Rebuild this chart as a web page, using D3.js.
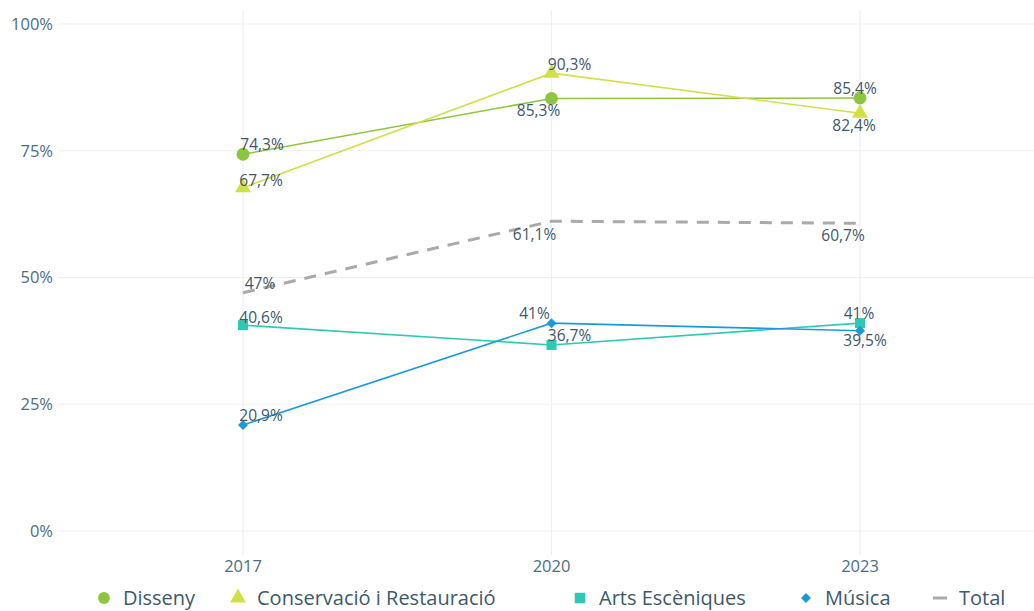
<!doctype html>
<html lang="ca">
<head>
<meta charset="utf-8">
<title>Inserció laboral</title>
<style>
  body { margin: 0; background: #fff; }
  svg { display: block; font-family: "Open Sans", "Noto Sans", sans-serif; }
</style>
</head>
<body>
<script src="https://cdn.jsdelivr.net/npm/d3@7"></script>
<script>
// data
var years = ["2017", "2020", "2023"];
var yTicks = [0, 0.25, 0.5, 0.75, 1];
var disseny = [0.743, 0.853, 0.854];
var conservacio = [0.677, 0.903, 0.824];
var artsEsceniques = [0.406, 0.367, 0.41];
var musica = [0.209, 0.41, 0.395];
var total = [0.47, 0.611, 0.607];

var w = 1034, h = 611;

var series = [
  { name: "Disseny", values: disseny, color: "#8cc63f", symbol: d3.symbolCircle, size: 130,
    off: [[19, -10], [-13, 12], [-5, -9]] },
  { name: "Conservació i Restauració", values: conservacio, color: "#cfe04a", symbol: d3.symbolTriangle, size: 110,
    off: [[18, -7], [18, -9], [-6, 12]] },
  { name: "Arts Escèniques", values: artsEsceniques, color: "#2dc9b2", symbol: d3.symbolSquare, size: 100,
    off: [[18, -8], [18, -9], [-1, -10]] },
  { name: "Música", values: musica, color: "#1b9ad8", symbol: d3.symbolSquare, size: 50, rotate: 45,
    off: [[18, -9], [-17, -10], [5, 10]] },
  { name: "Total", values: total, color: "#aaaaaa", dashed: true,
    off: [[17, -9], [-17, 13], [-17, 12]] }
];

var svg = d3.select("body").append("svg")
  .attr("width", w)
  .attr("height", h);

var x = d3.scalePoint().domain(years).range([243, 860]);
var y = d3.scaleLinear().domain([0, 1]).range([531, 24]);

// grid
svg.append("g").selectAll("line")
  .data(yTicks)
  .enter().append("line")
  .attr("x1", 58).attr("x2", w)
  .attr("y1", function(d) { return y(d); })
  .attr("y2", function(d) { return y(d); })
  .attr("stroke", "#efefef")
  .attr("stroke-width", 1.2);

svg.append("g").selectAll("line")
  .data(years)
  .enter().append("line")
  .attr("x1", function(d) { return x(d); })
  .attr("x2", function(d) { return x(d); })
  .attr("y1", 10).attr("y2", 555)
  .attr("stroke", "#efefef")
  .attr("stroke-width", 1.2);

// axes labels
svg.append("g").selectAll("text")
  .data(yTicks)
  .enter().append("text")
  .attr("x", 53)
  .attr("y", function(d) { return y(d); })
  .attr("dy", "0.35em")
  .attr("text-anchor", "end")
  .attr("font-size", 16.5)
  .attr("fill", "#4d6e7e")
  .text(function(d) { return d3.format(".0%")(d); });

svg.append("g").selectAll("text")
  .data(years)
  .enter().append("text")
  .attr("x", function(d) { return x(d); })
  .attr("y", 572)
  .attr("text-anchor", "middle")
  .attr("font-size", 16.5)
  .attr("fill", "#4d6e7e")
  .text(function(d) { return d; });

var fmt = function(v) {
  var s = (Math.round(v * 1000) / 10).toString().replace(".", ",");
  return s + "%";
};

// lines
series.forEach(function(s) {
  var line = d3.line()
    .x(function(d, i) { return x(years[i]); })
    .y(function(d) { return y(d); });

  svg.append("path")
    .datum(s.values)
    .attr("d", line)
    .attr("fill", "none")
    .attr("stroke", s.color)
    .attr("stroke-width", s.dashed ? 3 : 1.6)
    .attr("stroke-dasharray", s.dashed ? "12,9" : null);
});

// markers
series.forEach(function(s) {
  if (!s.symbol) return;
  svg.append("g").selectAll("path")
    .data(s.values)
    .enter().append("path")
    .attr("transform", function(d, i) {
      return "translate(" + x(years[i]) + "," + y(d) + ")" + (s.rotate ? " rotate(" + s.rotate + ")" : "");
    })
    .attr("d", d3.symbol().type(s.symbol).size(s.size))
    .attr("fill", s.color);
});

// labels
series.forEach(function(s) {
  svg.append("g").selectAll("text")
    .data(s.values)
    .enter().append("text")
    .attr("x", function(d, i) { return x(years[i]) + s.off[i][0]; })
    .attr("y", function(d, i) { return y(d) + s.off[i][1]; })
    .attr("dy", "0.35em")
    .attr("text-anchor", "middle")
    .attr("font-size", 15.5)
    .attr("fill", "#3f5868")
    .text(function(d) { return fmt(d); });
});

// legend
var legendX = [104, 238, 580, 806, 940];
var legend = svg.append("g").selectAll("g")
  .data(series)
  .enter().append("g")
  .attr("transform", function(d, i) { return "translate(" + legendX[i] + ",598)"; });

legend.each(function(s) {
  var g = d3.select(this);
  if (s.symbol) {
    g.append("path")
      .attr("d", d3.symbol().type(s.symbol).size(s.rotate ? 50 : 110))
      .attr("transform", s.rotate ? "rotate(" + s.rotate + ")" : null)
      .attr("fill", s.color);
  } else {
    g.append("line")
      .attr("x1", -7).attr("x2", 7)
      .attr("stroke", s.color)
      .attr("stroke-width", 3);
  }
  g.append("text")
    .attr("x", 19)
    .attr("dy", "0.35em")
    .attr("font-size", 20)
    .attr("fill", "#3d5a6a")
    .text(s.name);
});
</script>
</body>
</html>
